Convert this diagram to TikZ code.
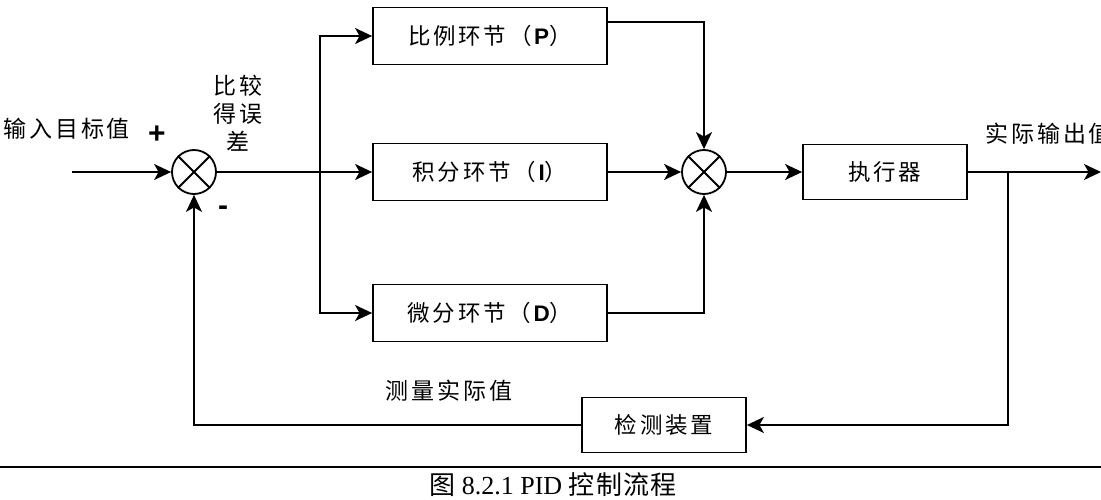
\documentclass[tikz,border=0pt]{standalone}
\usepackage{fontspec}
\setmainfont{Liberation Serif}
\setsansfont{Liberation Sans}
\newfontfamily\cjk{Noto Sans CJK SC}[LetterSpace=12]
\newfontfamily\cjkcap{Noto Sans CJK SC}[LetterSpace=5]
\usetikzlibrary{arrows.meta,calc}
\begin{document}
\begin{tikzpicture}[x=1pt,y=-1pt, line width=1.8pt,
  arr/.style={-{Stealth[length=17pt,width=16pt,inset=4.5pt]}},
  blk/.style={draw, rectangle, minimum width=234pt, minimum height=57pt, inner sep=0pt, font=\fontsize{22.5}{24}\selectfont\cjk},
  sumnode/.style={draw, circle, minimum size=44pt, inner sep=0pt},
  lbl/.style={font=\fontsize{23}{28}\selectfont\cjk, inner sep=0pt},
  sign/.style={font=\fontsize{30}{30}\selectfont\sffamily\bfseries, inner sep=0pt}]
\useasboundingbox (0,0) rectangle (1101,500);
% nodes
\node[sumnode] (s1) at (194,172) {};
\node[blk] (P) at (490,36) {比例环节（\textsf{\textbf{P}}）};
\node[blk] (I) at (490,172) {积分环节（\textsf{\textbf{I}}）};
\node[blk] (D) at (490,313) {微分环节（\textsf{\textbf{D}}）};
\node[sumnode] (s2) at (704,172) {};
\node[blk, minimum width=164pt, minimum height=55pt] (act) at (885,172) {执行器};
\node[blk, minimum width=164pt, minimum height=55pt] (det) at (664,425) {检测装置};
\draw (s1.north west) -- (s1.south east) (s1.north east) -- (s1.south west);
\draw (s2.north west) -- (s2.south east) (s2.north east) -- (s2.south west);
% coordinates
\coordinate (in) at (72,172);
\coordinate (br) at (320,172);
\coordinate (br2) at (1008,172);
\coordinate (out) at (1101,172);
% connectors
\draw[arr] (in) -- (s1.west);
\draw[arr] (s1.east) -- (I.west);
\draw[arr] (br) |- (P.west);
\draw[arr] (br) |- (D.west);
\draw[arr] ([yshift=14pt]P.east) -| (s2.north);
\draw[arr] (I.east) -- (s2.west);
\draw[arr] (D.east) -| (s2.south);
\draw[arr] (s2.east) -- (act.west);
\draw[arr] (act.east) -- (out);
\draw[arr] (br2) |- (det.east);
\draw[arr] (det.west) -| (s1.south);
% labels
\node[lbl, anchor=west] (tin) at (3,129) {输入目标值};
\node[sign] (plus) at (157,135) {+};
\node[sign] (minus) at (223,211) {-};
\node[lbl, align=center] (cmp) at (238,113) {比较\\得误\\差};
\node[lbl, anchor=west] (tout) at (985,134) {实际输出值};
\node[lbl] (meas) at (449,391) {测量实际值};
% caption
\draw (0,467) -- (1101,467);
\node[font=\fontsize{26}{26}\selectfont, inner sep=0pt] (cap) at (553,485) {{\cjkcap 图} 8.2.1 PID {\cjkcap 控制流程}};
\end{tikzpicture}
\end{document}
